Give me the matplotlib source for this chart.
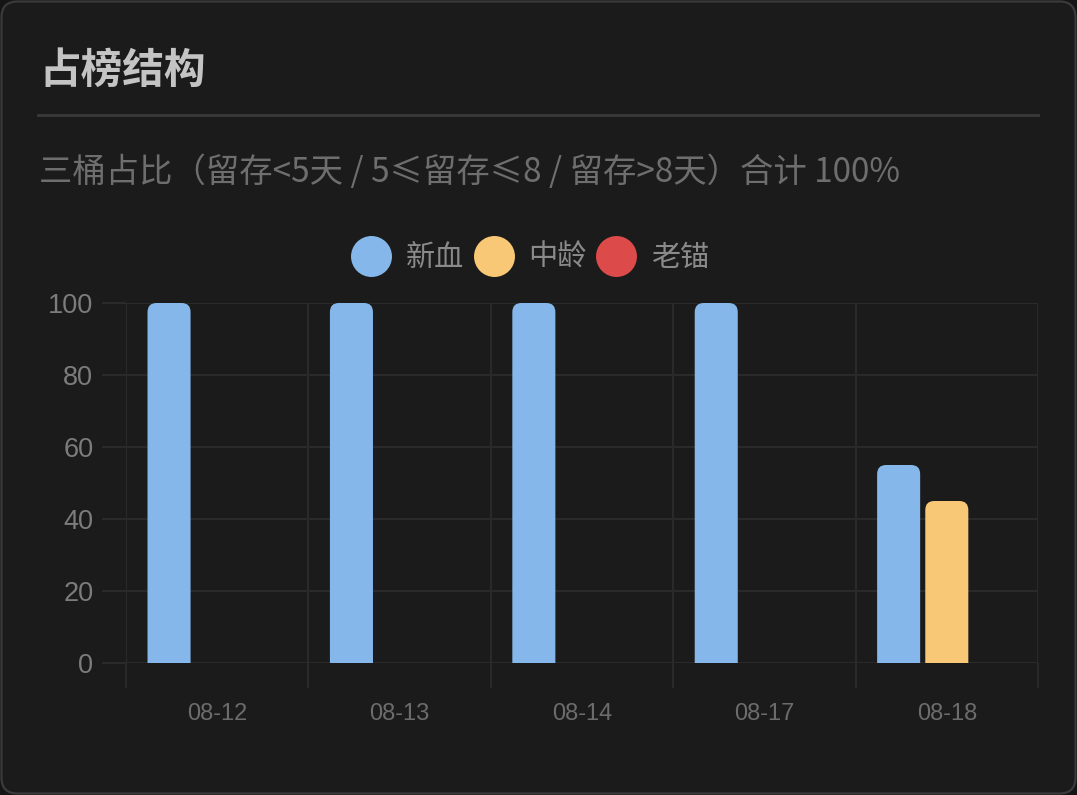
import numpy as np
import matplotlib
matplotlib.use('Agg')
import matplotlib.pyplot as plt
from matplotlib.patches import FancyBboxPatch
from matplotlib.lines import Line2D

# data
dates = ['08-12', '08-13', '08-14', '08-17', '08-18']
series_names = ['新血', '中龄', '老锚']
xinxue = [100, 100, 100, 100, 55]
zhongling = [0, 0, 0, 0, 45]
laomao = [0, 0, 0, 0, 0]
yticks = [0, 20, 40, 60, 80, 100]

colors = ['#85b7eb', '#f9c876', '#dc4a4a']
card_bg = '#1b1b1b'
grid_c = '#2a2a2a'
cjk = ['Noto Sans CJK SC', 'DejaVu Sans']

W, H = 1077, 795
fig = plt.figure(figsize=(W / 100, H / 100), dpi=100)
fig.patch.set_facecolor('#151515')

# card with rounded corners
r = 16
card = FancyBboxPatch((1.5 / W, 1.5 / H), (W - 3) / W, (H - 3) / H,
                      boxstyle=f"round,pad=0,rounding_size={r / W}",
                      mutation_aspect=W / H,
                      transform=fig.transFigure, facecolor=card_bg,
                      edgecolor='#3a3a3a', linewidth=1.6, zorder=-5)
fig.patches.append(card)

# header
fig.text(39 / W, 1 - 71 / H, '占榜结构', family=cjk, fontsize=30,
         fontweight='heavy', color='#c4c4c4', va='center', ha='left')
fig.add_artist(Line2D([38 / W, 1038 / W], [1 - 115 / H, 1 - 115 / H],
                      transform=fig.transFigure, color='#3a3a3a', linewidth=2))
fig.text(39 / W, 1 - 172 / H, '三桶占比（留存<5天 / 5≤留存≤8 / 留存>8天）合计 100%',
         family=cjk, fontsize=24, color='#6e6e6e', va='center', ha='left')

# plot area
ax = fig.add_axes([126 / W, 1 - 663 / H, 912 / W, 360 / H])
ax.set_facecolor(card_bg)
for s in ax.spines.values():
    s.set_visible(False)

x = np.arange(len(dates))
width = 0.236
offsets = [-0.264, 0.0, 0.264]
px_x = 912 / 5.0   # pixels per category
px_y = 360 / 100.0  # pixels per unit
rad = 9
rx = rad / px_x
ry = rad / px_y

for vals, off, c in zip([xinxue, zhongling, laomao], offsets, colors):
    bars = ax.bar(x + off, vals, width, color=c)
    for b in bars:
        b.set_visible(False)
        h = b.get_height()
        if h <= 0:
            continue
        # rounded top, bottom pushed below the axis so it is clipped square
        p = FancyBboxPatch((b.get_x(), -ry * 2), b.get_width(), h + ry * 2,
                           boxstyle=f"round,pad=0,rounding_size={rx}",
                           mutation_aspect=ry / rx, facecolor=c,
                           edgecolor='none', zorder=3)
        ax.add_patch(p)

ax.set_xlim(-0.5, len(dates) - 0.5)
ax.set_ylim(0, 100)
ax.set_yticks(yticks)
ax.set_yticklabels([str(v) for v in yticks])
ax.set_xticks(x)
ax.set_xticklabels(dates)
ax.set_xticks(np.arange(-0.5, len(dates)), minor=True)

ax.tick_params(axis='y', length=17.5, width=1.5, color=grid_c, pad=6,
               labelsize=19.5, labelcolor='#7c7c7c')
ax.tick_params(axis='x', which='major', length=0, pad=29,
               labelsize=17, labelcolor='#6c6c6c')
ax.tick_params(axis='x', which='minor', length=18, width=1.5, color=grid_c)
for lab in ax.get_xticklabels() + ax.get_yticklabels():
    lab.set_family('Liberation Sans')

ax.grid(axis='y', which='major', color=grid_c, linewidth=1.5, zorder=0)
ax.grid(axis='x', which='minor', color=grid_c, linewidth=1.5, zorder=0)
ax.set_axisbelow(True)

# legend with big round markers
handles = [Line2D([], [], linestyle='none', marker='o', markersize=29.5,
                  markerfacecolor=c, markeredgecolor='none') for c in colors]
fig.legend(handles, series_names, loc='center', ncol=3,
           bbox_to_anchor=(530 / W, 1 - 258 / H), frameon=False,
           prop={'family': cjk, 'size': 21}, labelcolor='#8a8a8a',
           handlelength=1.4, handletextpad=0.5, columnspacing=0.3,
           borderpad=0)

fig.savefig('out.png', dpi=100, facecolor=fig.get_facecolor())
